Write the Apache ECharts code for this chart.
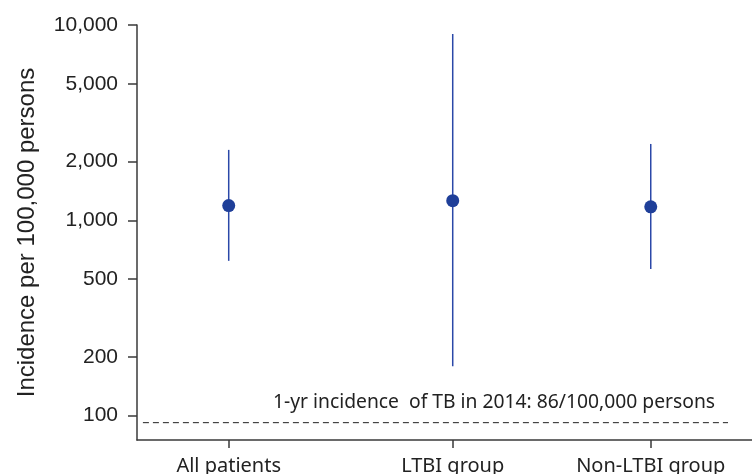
<!DOCTYPE html>
<html>
<head>
<meta charset="utf-8">
<script src="https://cdn.jsdelivr.net/npm/echarts@6/dist/echarts.min.js"></script>
<style>html,body{margin:0;padding:0;background:#fff}#c{width:752px;height:474px}</style>
</head>
<body>
<div id="c"></div>
<script>
const categories = ['All patients', 'LTBI group', 'Non-LTBI group'];
const catPositions = [1, 2, 2.884];
const estimates = [1190, 1260, 1172];
const lowerCI = [620, 179, 563];
const upperCI = [2294, 9000, 2460];
const yTicks = [100, 200, 500, 1000, 2000, 5000, 10000];
const refValue = 92;
const refExtent = [0.617, 3.229];
const refLabel = '1-yr incidence  of TB in 2014: 86/100,000 persons';

const FONT = '"Liberation Sans", Arial, sans-serif';
const FONT2 = '"Noto Sans", "Open Sans", sans-serif';
const chart = echarts.init(document.getElementById('c'));

const errData = categories.map((c, i) => [catPositions[i], lowerCI[i], upperCI[i]]);
const ptData = categories.map((c, i) => [catPositions[i], estimates[i]]);
const refData = refExtent.map(x => [x, refValue]);

chart.setOption({
  animation: false,
  grid: { left: 137, top: 25, right: 0, bottom: 34, outerBoundsMode: 'none', containLabel: false },
  xAxis: {
    type: 'value', min: 0.5906, max: 3.336,
    splitLine: { show: false },
    axisLine: { show: true, lineStyle: { color: '#3a3a3a', width: 1.5 } },
    axisTick: { show: true, customValues: catPositions, length: 8, lineStyle: { color: '#3a3a3a', width: 1.5 } },
    axisLabel: {
      customValues: catPositions, margin: 16,
      fontFamily: FONT2, fontSize: 20, color: '#222',
      formatter: v => { const i = catPositions.findIndex(p => Math.abs(p - v) < 1e-6); return i >= 0 ? categories[i] : ''; }
    }
  },
  yAxis: {
    type: 'log', logBase: 10, min: 75, max: 10000,
    name: 'Incidence per 100,000 persons', nameLocation: 'middle', nameGap: 98,
    nameTextStyle: { fontFamily: FONT, fontSize: 24, color: '#222' },
    splitLine: { show: false },
    axisLine: { show: true, lineStyle: { color: '#3a3a3a', width: 1.5 } },
    axisTick: { show: true, customValues: yTicks, length: 9, lineStyle: { color: '#3a3a3a', width: 1.5 } },
    axisLabel: {
      customValues: yTicks, margin: 19,
      fontFamily: FONT, fontSize: 21, color: '#222',
      formatter: v => Math.round(v).toLocaleString('en-US')
    }
  },
  series: [
    {
      type: 'line', data: refData, symbol: 'none', silent: true,
      lineStyle: { color: '#222', width: 1, type: [6, 4] }
    },
    {
      type: 'custom', data: errData,
      renderItem: (params, api) => {
        const x = api.value(0);
        const p1 = api.coord([x, api.value(1)]);
        const p2 = api.coord([x, api.value(2)]);
        return { type: 'line', shape: { x1: p1[0], y1: p1[1], x2: p2[0], y2: p2[1] },
          style: { stroke: '#2b48a8', lineWidth: 1.5 } };
      },
      encode: { x: 0, y: [1, 2] }
    },
    {
      type: 'scatter', data: ptData, symbol: 'circle', symbolSize: 13,
      itemStyle: { color: '#1f3f99', opacity: 1 }, z: 5
    }
  ],
  graphic: [{
    type: 'text', left: 273, top: 393,
    style: { text: refLabel, fontFamily: FONT2, fontSize: 19.3, fill: '#222' }
  }]
});
</script>
</body>
</html>
